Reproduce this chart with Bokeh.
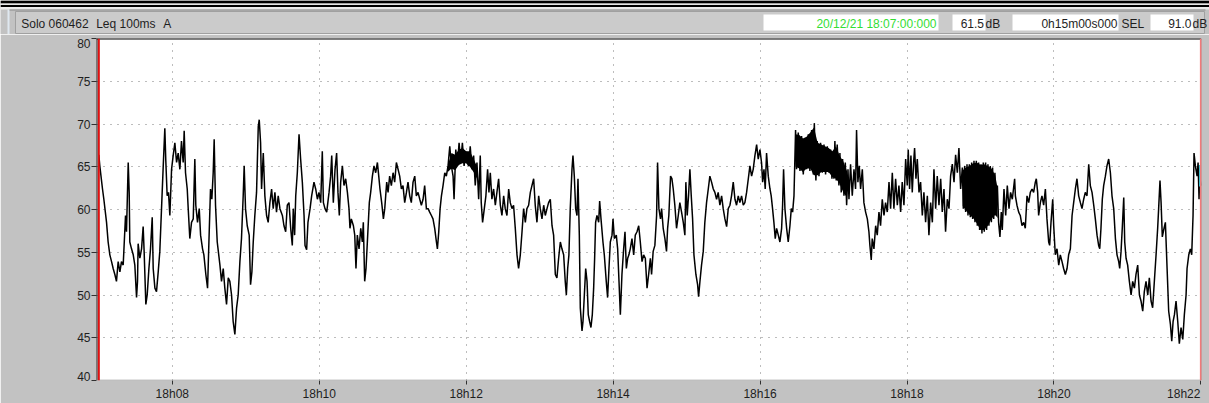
from bokeh.plotting import figure
from bokeh.layouts import column
from bokeh.models import Range1d, FixedTicker, Span, ColumnDataSource
from bokeh.core.properties import value
from bokeh.embed import file_html
from bokeh.resources import INLINE

# ---------------- data (seconds after 18:07:00, Leq 100ms A in dB) ----------------
seg1_t = [0, 0.8, 3.0, 4.1, 6.3, 7.6, 9.0, 10.4, 11.7, 13.1,
          14.4, 15.8, 17.2, 18.5, 19.9, 21.8, 22.6, 24.0, 24.8, 25.3,
          26.7, 28.1, 29.4, 30.8, 31.6, 32.1, 33.5, 34.9, 36.2, 37.0,
          38.4, 39.5, 40.9, 42.2, 43.6, 44.4, 45.8, 47.1, 48.5, 49.8,
          51.2, 52.6, 53.9, 54.7, 55.8, 56.9, 58.0, 59.4, 60.7, 62.1,
          63.5, 64.8, 66.2, 67.5, 68.9, 69.7, 70.8, 72.2, 73.0, 74.3,
          75.7, 77.1, 78.4, 79.2, 80.6, 82.0, 83.1, 84.7, 85.8, 87.4,
          88.8, 89.9, 91.2, 92.3, 93.4, 94.2, 95.3, 96.7, 98.9, 100.2,
          101.6, 102.9, 104.3, 105.7, 107.0, 108.4, 109.7, 111.1, 112.5, 113.8,
          115.2, 116.5, 117.9, 118.7, 119.8, 121.2, 122.8, 123.9, 125.0, 126.1,
          127.4, 128.8, 130.2, 131.0, 132.1, 132.9, 134.3, 135.6, 137.0, 138.3,
          139.7, 141.1, 142.4, 143.8, 145.1, 146.5, 147.9]
seg1_db = [66.4, 65.1, 62.4, 61.2, 58.5, 56.2, 54.7, 53.9, 53.1, 52.4,
           51.6, 53.9, 52.7, 53.9, 53.5, 59.3, 57.4, 65.5, 62.0, 56.2,
           55.4, 54.7, 53.5, 49.7, 51.6, 56.0, 54.3, 55.4, 58.0, 55.1,
           48.9, 50.0, 53.1, 55.4, 59.1, 53.1, 50.8, 50.4, 52.7, 55.1,
           60.1, 65.1, 69.5, 65.7, 61.6, 62.0, 59.3, 64.7, 66.3, 67.8,
           65.5, 66.6, 64.7, 68.0, 65.5, 69.2, 64.3, 62.4, 60.1, 56.6,
           58.5, 58.9, 65.9, 60.5, 58.5, 60.1, 57.0, 55.4, 54.7, 52.4,
           50.8, 56.2, 62.4, 61.2, 64.3, 68.2, 60.5, 56.2, 53.5, 51.6,
           53.1, 50.8, 48.9, 52.0, 51.6, 50.0, 46.9, 45.4, 48.5, 50.0,
           53.9, 56.6, 61.6, 65.1, 60.1, 58.1, 57.0, 51.2, 52.7, 56.2,
           59.3, 62.0, 69.7, 70.5, 67.8, 62.4, 66.6, 61.6, 59.3, 58.5,
           60.8, 62.4, 60.1, 62.0, 59.7, 61.6, 60.1]

seg2_t = [149.9, 151.2, 152.6, 153.9, 155.3, 156.7, 158.0, 158.8, 159.9, 160.8,
          162.1, 163.5, 164.8, 166.2, 167.6, 168.4, 169.7, 170.8, 172.5, 173.8,
          175.7, 177.1, 178.5, 179.8, 181.2, 182.5, 183.4, 184.7, 186.1, 188.0,
          189.3, 190.2, 191.5, 192.9, 194.2, 195.3, 196.4, 197.5, 198.9, 200.2,
          201.6, 203.0, 204.3, 205.1, 206.2, 207.9, 209.0, 210.0, 211.1, 212.5,
          213.9, 215.2, 216.0, 217.1, 218.2, 219.3, 220.1, 220.9, 222.0, 223.4,
          224.7, 226.1, 227.5, 228.6, 229.6, 231.0, 232.4, 233.5, 235.1, 236.2,
          237.5, 238.9, 240.3, 241.6, 243.0, 244.4, 245.7, 247.1, 248.4, 249.8,
          251.2, 252.5, 253.9, 255.2, 256.6, 258.0, 259.3, 260.7, 262.1, 263.4,
          264.8, 266.1, 267.5, 268.9, 270.2, 271.6, 272.9, 274.3, 275.7, 276.5,
          277.6, 278.7, 279.8, 281.1, 282.5, 283.8, 285.2, 286.6, 287.9, 289.3,
          290.1, 291.5, 292.8, 294.2, 295.5, 296.9, 298.3, 299.6, 301.0]
seg2_db = [59.3, 58.1, 57.4, 60.5, 60.8, 57.8, 55.8, 60.1, 57.0, 61.6,
           64.3, 68.8, 65.9, 63.2, 59.3, 55.8, 55.3, 58.5, 60.1, 61.6,
           63.2, 62.4, 61.2, 62.0, 60.8, 66.8, 60.8, 60.1, 59.7, 62.0,
           63.9, 66.3, 60.8, 64.7, 66.6, 62.0, 59.3, 63.2, 65.1, 62.8,
           63.6, 62.0, 60.1, 57.8, 58.9, 58.1, 57.0, 53.1, 57.0, 55.4,
           57.8, 56.2, 58.5, 51.6, 53.1, 56.2, 58.5, 60.8, 62.0, 63.9,
           65.1, 64.3, 65.5, 63.9, 62.4, 60.8, 58.9, 60.1, 63.2, 62.0,
           63.9, 62.8, 64.3, 63.2, 65.5, 64.7, 63.9, 62.4, 62.8, 60.8,
           62.0, 63.2, 61.6, 60.8, 63.2, 63.9, 61.6, 62.0, 61.2, 60.5,
           61.2, 62.8, 60.1, 60.1, 59.7, 59.3, 58.9, 57.8, 56.2, 55.4,
           57.4, 60.1, 61.6, 62.8, 64.3, 63.9, 65.1, 67.4, 65.1, 63.9,
           61.2, 67.0, 65.1, 67.8, 65.5, 67.8, 65.1, 66.8, 65.5]

seg3_t = [302.0, 303.3, 304.7, 306.1, 307.4, 308.8, 310.2, 311.5, 312.3, 313.4,
          314.8, 316.1, 317.5, 318.6, 319.7, 321.0, 322.4, 323.8, 325.1, 326.5,
          327.9, 329.2, 330.6, 331.9, 333.3, 334.7, 336.0, 337.4, 338.7, 340.1,
          341.5, 342.8, 344.2, 345.6, 346.9, 348.3, 349.6, 351.0, 352.4, 353.7,
          355.1, 356.4, 357.8, 359.2, 360.5, 361.9, 363.3, 364.6, 366.0, 367.3,
          368.7, 370.1, 371.4, 372.8, 374.1, 375.5, 376.9, 378.2, 379.6, 380.9,
          381.8, 382.9, 383.9, 385.0, 386.4, 387.2, 388.3, 389.4, 390.5, 391.3,
          392.4, 393.2, 394.6, 395.4, 396.5, 397.6, 398.7, 399.7, 400.8, 401.9,
          403.0, 404.1, 404.9, 405.7, 406.8, 408.2, 409.0, 410.1, 411.7, 412.8,
          414.4, 415.5, 416.6, 417.7, 419.1, 419.9, 421.0, 422.6, 423.7, 424.8,
          425.9, 427.2, 428.6, 429.7, 430.8, 431.9, 432.9, 434.0, 435.4, 436.8,
          438.1, 439.5, 440.9, 442.2, 443.6, 444.9, 446.3, 447.7, 449.0, 450.4]
seg3_db = [65.1, 67.4, 64.7, 66.3, 62.8, 65.5, 61.2, 66.3, 60.8, 58.5,
           60.1, 61.6, 64.7, 62.0, 64.3, 61.2, 62.4, 60.5, 62.0, 63.6,
           60.5, 59.3, 61.6, 60.1, 59.3, 62.4, 60.8, 60.1, 60.5, 57.8,
           54.7, 53.1, 54.7, 57.4, 60.1, 58.5, 60.1, 60.5, 62.0, 62.8,
           63.6, 60.5, 58.5, 61.6, 60.1, 58.9, 60.5, 59.3, 60.1, 60.8,
           61.2, 58.1, 57.0, 52.4, 52.0, 54.3, 56.2, 55.4, 54.7, 51.6,
           50.0, 53.1, 54.7, 60.1, 64.7, 66.3, 63.9, 60.1, 59.3, 63.6,
           57.0, 48.5, 45.8, 46.9, 50.0, 53.1, 51.6, 47.7, 46.9, 46.2,
           47.7, 50.8, 54.3, 58.5, 59.3, 58.5, 61.0, 58.9, 56.2, 54.7,
           51.6, 49.7, 53.1, 56.2, 57.0, 58.9, 56.6, 57.0, 55.4, 51.6,
           47.7, 52.4, 55.4, 57.4, 53.1, 54.3, 54.7, 55.4, 56.6, 54.7,
           57.0, 57.4, 58.1, 56.2, 53.9, 54.7, 54.3, 50.8, 52.4, 54.3]

seg4_t = [451.4, 452.7, 454.1, 455.5, 456.3, 457.4, 458.7, 459.6, 460.9, 462.3,
          463.6, 464.5, 465.5, 466.9, 468.0, 469.1, 470.4, 471.8, 473.2, 474.5,
          475.9, 477.3, 478.6, 479.4, 480.5, 481.6, 482.7, 483.8, 484.9, 486.0,
          487.6, 489.0, 489.8, 490.9, 492.2, 493.6, 494.9, 496.3, 497.7, 499.0,
          500.4, 501.8, 503.1, 504.5, 505.8, 507.2, 508.6, 509.9, 511.3, 512.7,
          514.0, 515.4, 516.7, 518.1, 519.5, 520.8, 522.2, 523.5, 524.9, 526.3,
          527.6, 529.0, 530.4, 531.7, 533.1, 534.4, 535.8, 537.2, 538.5, 539.9,
          541.2, 542.1, 543.2, 544.2, 545.3, 546.7, 548.1, 549.1, 550.2, 551.3,
          552.4, 553.5, 554.9, 556.2, 557.6, 558.4, 559.2, 560.3, 561.7, 563.0,
          564.4, 565.5, 566.6, 567.7, 569.0, 569.8, 571.2, 572.6, 573.9, 575.3,
          576.6, 578.0, 579.4, 580.7, 582.1, 583.5, 584.3, 585.6, 586.7, 588.1,
          589.4, 590.8, 592.2, 593.5, 594.9, 596.3, 597.6, 598.7, 599.8]
seg4_db = [52.4, 55.1, 55.8, 59.3, 65.5, 60.1, 58.9, 60.1, 57.8, 56.6,
           55.1, 57.8, 59.3, 63.9, 63.6, 62.4, 60.5, 57.8, 59.3, 60.8,
           59.7, 58.5, 57.0, 63.2, 59.3, 61.6, 64.7, 61.6, 58.9, 54.7,
           52.4, 51.2, 49.8, 51.6, 53.5, 55.1, 58.5, 60.8, 62.4, 63.9,
           63.2, 62.4, 62.0, 61.2, 62.0, 60.5, 61.6, 60.1, 58.9, 58.0,
           60.1, 60.5, 61.6, 63.2, 61.2, 60.5, 61.6, 60.8, 61.6, 60.5,
           60.8, 62.0, 63.6, 65.1, 63.9, 64.7, 66.3, 67.6, 65.9, 67.0,
           65.5, 63.2, 64.7, 62.4, 66.6, 63.9, 62.4, 61.6, 60.1, 58.5,
           56.6, 57.8, 57.0, 56.2, 57.8, 60.5, 64.7, 60.1, 57.8, 56.2,
           58.1, 60.1, 59.7, 61.6, 69.3, 64.7, 69.0, 64.5, 68.6, 64.1,
           68.2, 64.7, 68.8, 64.5, 69.3, 64.1, 70.1, 63.4, 68.0, 63.9,
           67.8, 64.3, 67.6, 64.1, 67.4, 64.3, 67.0, 63.6, 66.6]

seg5_t = [600.3, 601.1, 602.2, 603.0, 604.4, 605.2, 606.3, 607.4, 608.5, 609.6,
          610.7, 611.8, 612.6, 613.9, 615.3, 616.7, 618.0, 618.8, 619.9, 621.0,
          622.1, 623.5, 624.8, 626.2, 627.6, 628.9, 629.7, 630.8, 631.6, 633.0,
          634.4, 635.7, 637.1, 638.4, 639.8, 641.2, 642.5, 643.9, 645.3, 646.6,
          648.0, 649.3, 650.7, 652.1, 653.4, 654.8, 656.1, 657.5, 658.9, 660.2,
          661.0, 662.1, 663.2, 664.3, 665.4, 666.2, 667.3, 668.4, 669.8, 671.1,
          672.5, 673.8, 675.2, 676.6, 677.9, 679.3, 680.7, 682.0, 683.4, 684.7,
          686.1, 687.5, 688.8, 690.2, 691.5, 692.9, 694.3, 695.6, 697.0, 698.4,
          699.7, 701.1, 702.4, 703.8, 705.2, 706.0, 707.1, 707.9, 709.0, 709.8,
          710.9, 711.7, 712.8, 713.6, 714.7, 715.5, 716.6, 717.4, 718.5, 719.3,
          720.4, 721.2, 722.3, 723.1, 724.2, 725.0, 726.1, 726.9, 728.0, 728.9,
          729.9, 730.8, 731.8, 732.7, 733.8, 734.8, 735.9, 737.0, 737.8, 739.2,
          740.6, 741.9, 743.3, 744.6, 746.0, 747.9]
seg5_db = [63.6, 68.0, 63.4, 67.6, 62.8, 66.6, 62.0, 65.9, 61.6, 65.5,
           60.5, 64.7, 61.2, 65.3, 61.6, 64.7, 62.4, 69.3, 63.2, 65.1,
           62.4, 64.7, 60.8, 59.7, 58.9, 57.4, 55.8, 54.1, 56.6, 55.4,
           58.1, 57.0, 59.7, 58.1, 61.2, 59.3, 60.8, 59.7, 63.2, 60.1,
           64.3, 60.1, 63.6, 60.5, 62.8, 59.7, 63.2, 60.5, 65.9, 62.8,
           67.0, 62.4, 66.3, 62.0, 65.5, 67.2, 63.6, 65.9, 62.0, 63.2,
           59.3, 62.0, 58.5, 61.6, 57.0, 60.8, 58.5, 64.7, 60.1, 63.9,
           60.5, 63.6, 59.7, 62.4, 57.4, 61.2, 60.1, 63.9, 65.3, 63.2,
           66.4, 64.3, 67.2, 62.4, 64.9, 60.1, 65.1, 59.7, 65.3, 59.3,
           65.3, 59.1, 65.5, 58.9, 65.7, 58.5, 65.7, 58.1, 65.5, 57.6,
           65.3, 57.2, 65.5, 57.4, 65.5, 57.6, 65.3, 58.1, 65.1, 58.5,
           64.9, 58.9, 64.3, 59.3, 62.8, 58.5, 56.8, 59.7, 57.6, 62.4,
           59.3, 62.8, 60.1, 62.0, 61.2, 63.6]

seg6_t = [748.5, 749.8, 751.2, 752.5, 753.9, 755.3, 756.6, 758.0, 759.4, 760.7,
          762.1, 763.4, 764.8, 765.6, 766.7, 767.5, 768.9, 770.2, 771.6, 773.0,
          774.3, 775.7, 776.5, 777.6, 779.0, 779.8, 781.1, 782.5, 783.9, 785.2,
          786.6, 787.9, 789.3, 790.7, 792.0, 793.4, 794.8, 796.1, 797.5, 798.8,
          800.2, 801.6, 802.9, 804.3, 805.6, 807.0, 808.4, 809.7, 811.1, 812.5,
          813.8, 815.2, 816.5, 817.4, 818.4, 819.5, 820.6, 822.0, 823.3, 824.7,
          826.1, 827.4, 828.8, 830.2, 831.5, 832.9, 833.7, 834.8, 835.9, 837.0,
          837.8, 838.9, 840.2, 841.6, 843.0, 844.3, 845.7, 847.0, 848.4, 849.8,
          851.1, 852.5, 853.8, 855.2, 856.6, 857.9, 859.3, 860.6, 862.0, 863.4,
          864.7, 865.5, 866.6, 867.5, 868.5, 869.6, 871.0, 872.4, 873.7, 875.1,
          876.2, 877.3, 878.4, 879.7, 881.1, 882.4, 883.8, 885.2, 886.5, 887.9,
          888.7, 890.1, 891.4, 892.5, 893.6, 894.4, 895.5, 896.9, 897.7, 898.5,
          899.0, 900.0]
seg6_db = [61.6, 60.5, 59.7, 59.3, 58.1, 58.5, 57.8, 61.6, 60.8, 62.0,
           62.4, 62.0, 63.2, 63.6, 62.0, 59.3, 60.8, 61.6, 60.5, 62.4,
           58.9, 56.2, 55.8, 58.5, 61.2, 58.1, 54.7, 55.4, 53.5, 54.7,
           53.9, 53.1, 52.4, 53.1, 54.7, 55.4, 59.3, 60.8, 62.4, 63.6,
           61.6, 60.8, 60.1, 61.2, 62.0, 61.6, 65.3, 62.8, 62.0, 60.5,
           58.9, 57.0, 55.8, 55.4, 57.8, 61.2, 62.8, 63.9, 65.1, 65.9,
           64.3, 61.6, 60.1, 56.6, 54.7, 53.9, 53.1, 55.1, 58.1, 61.4,
           56.2, 54.3, 53.5, 51.6, 50.0, 51.6, 50.8, 52.4, 53.5, 50.0,
           49.3, 48.1, 50.4, 51.6, 50.0, 52.0, 49.3, 48.5, 51.6, 54.7,
           57.8, 60.1, 63.4, 60.8, 56.8, 57.6, 58.5, 53.1, 48.1, 46.6,
           44.6, 46.9, 47.7, 49.3, 46.9, 44.3, 46.2, 44.8, 47.7, 50.0,
           53.1, 54.7, 55.4, 54.7, 59.3, 66.6, 65.1, 63.9, 65.5, 61.2,
           63.9, 62.8]

# solid cores of the densely oscillating stretches (inner envelope, dB)
dense_a_t = [569.0, 572.0, 575.0, 578.0, 581.0, 584.0, 587.0, 590.0, 593.0, 596.0, 599.0, 602.0, 605.0, 608.0, 611.0]
dense_a_lo = [65.0, 64.8, 64.4, 64.8, 64.8, 64.0, 64.0, 64.4, 64.4, 64.4, 63.8, 63.6, 63.0, 62.0, 61.4]
dense_a_hi = [68.8, 68.7, 68.3, 68.5, 69.0, 69.6, 67.8, 67.6, 67.4, 67.2, 66.8, 67.4, 66.3, 65.6, 64.5]
dense_b_t = [705.5, 708.0, 711.0, 714.0, 717.0, 720.0, 723.0, 726.0, 729.0, 732.0, 734.0]
dense_b_lo = [60.4, 59.9, 59.4, 59.0, 58.4, 57.6, 57.6, 58.1, 58.9, 59.4, 59.0]
dense_b_hi = [64.6, 64.9, 65.1, 65.4, 65.5, 65.2, 65.3, 65.1, 64.8, 64.0, 62.5]
dense_c_t = [285.0, 288.0, 291.0, 294.0, 297.0, 300.0, 303.0, 306.0, 309.0]
dense_c_lo = [64.4, 64.8, 64.6, 65.2, 65.4, 65.4, 65.0, 64.4, 63.6]
dense_c_hi = [65.2, 66.6, 66.4, 67.0, 67.2, 66.8, 66.8, 65.9, 65.0]

# tick marks (true positions) and where their labels sit (edge labels pulled inside)
x_tick_s = [60, 180, 300, 420, 540, 660, 780, 900]
x_label_s = [60, 180, 300, 420, 540, 660, 780, 886]
x_tick_labels = ["18h08", "18h10", "18h12", "18h14", "18h16", "18h18", "18h20", "18h22"]
y_ticks = [40, 45, 50, 55, 60, 65, 70, 75, 80]
y_label_pos = [40.47, 45, 50, 55, 60, 65, 70, 75, 79.4]
y_tick_labels = ["40", "45", "50", "55", "60", "65", "70", "75", "80"]

header_parts = ["Solo 060462", "Leq 100ms", "A"]
cursor_time = "20/12/21 18:07:00:000"
cursor_level = "61.5"
duration = "0h15m00s000"
sel_value = "91.0"
cursor_t = 899.3
cursor_span_db = (62.7, 65.2)

# ---------------- assemble ----------------
times_s, levels_db = [], []
for ts, ls in [(seg1_t, seg1_db), (seg2_t, seg2_db), (seg3_t, seg3_db),
               (seg4_t, seg4_db), (seg5_t, seg5_db), (seg6_t, seg6_db)]:
    n = min(len(ts), len(ls))
    times_s += ts[:n]
    levels_db += ls[:n]

FONT = "Liberation Sans"
PANEL = "#c2c2c2"
BAND = "#cbcbcb"
TXT = "#1e1e1e"
W = 1209
HH = 34

# ---------------- header strip (page pixel coordinates) ----------------
hdr = figure(width=W, height=HH, x_range=Range1d(0, W), y_range=Range1d(HH, 0),
             toolbar_location=None, output_backend="svg",
             x_axis_location=None, y_axis_location=None, frame_align=False,
             min_border=0, min_border_left=0, min_border_right=0,
             min_border_top=0, min_border_bottom=0)
hdr.grid.visible = False
hdr.outline_line_color = None
hdr.background_fill_color = PANEL
hdr.border_fill_color = PANEL
# window top edge
hdr.quad(left=[0, 0, 0], right=[W, W, W], top=[0, 3, 4.5], bottom=[3, 4.5, 6.5],
         fill_color=["black", "#e6e6e6", "black"], line_color=None)
hdr.quad(left=[0], right=[W], top=[6.5], bottom=[9], fill_color="#ececec", line_color=None)
hdr.quad(left=[7], right=[9], top=[9], bottom=[HH], fill_color="#dfe8f0", line_color=None)
hdr.quad(left=[9], right=[1205], top=[9], bottom=[10], fill_color="#8a8a8a", line_color=None)
# label band and value boxes
hdr.quad(left=[15], right=[1204], top=[11], bottom=[33], fill_color=BAND,
         line_color="#a0a0a0", line_width=1)
hdr.quad(left=[763, 952, 1012, 1150], right=[938, 985, 1118, 1193],
         top=[14, 14, 14, 14], bottom=[30, 30, 30, 30], fill_color="white", line_color=None)

def htext(x, s, align, color=TXT):
    hdr.text(x=[x], y=[23.3], text=[s], text_align=align, text_baseline="middle",
             text_font=value(FONT), text_font_size="12px", text_color=color)

htext(20.7, header_parts[0], "left")
htext(95.7, header_parts[1], "left")
htext(162.7, header_parts[2], "left")
htext(936, cursor_time, "right", "#33dd33")
htext(983.5, cursor_level, "right")
htext(985, "dB", "left")
htext(1117, duration, "right")
htext(1121, "SEL", "left")
htext(1191, sel_value, "right")
htext(1192, "dB", "left")

# ---------------- main chart ----------------
p = figure(width=W, height=403 - HH, x_range=Range1d(-1.9, 900.5), y_range=Range1d(40, 80),
           toolbar_location=None, output_backend="svg", frame_align=False,
           min_border_left=96, min_border_right=8, min_border_top=4, min_border_bottom=21)
p.background_fill_color = "white"
p.border_fill_color = PANEL
p.outline_line_color = None

p.xaxis.ticker = FixedTicker(ticks=x_label_s, minor_ticks=x_tick_s)
p.xaxis.major_label_overrides = {t: lab for t, lab in zip(x_label_s, x_tick_labels)}
p.yaxis.ticker = FixedTicker(ticks=y_label_pos, minor_ticks=y_ticks)
p.yaxis.major_label_overrides = {t: lab for t, lab in zip(y_label_pos, y_tick_labels)}

for ax in (p.xaxis[0], p.yaxis[0]):
    ax.axis_line_color = None
    ax.major_tick_line_color = None
    ax.minor_tick_line_color = "#303030"
    ax.minor_tick_in = 0
    ax.major_tick_in = 0
    ax.major_label_text_font = FONT
    ax.major_label_text_font_size = "12px"
    ax.major_label_text_color = TXT
p.xaxis.major_tick_out = 4
p.xaxis.minor_tick_out = 4
p.xaxis.major_label_standoff = 2
p.yaxis.major_tick_out = 5
p.yaxis.minor_tick_out = 5
p.yaxis.major_label_standoff = 1

p.xgrid.ticker = FixedTicker(ticks=x_tick_s[:-1])
p.ygrid.ticker = FixedTicker(ticks=y_ticks[1:-1])
for g in (p.xgrid[0], p.ygrid[0]):
    g.grid_line_color = "#7a7a7a"
    g.grid_line_dash = "1 6"
    g.grid_line_width = 1

for dt, dlo, dhi in [(dense_a_t, dense_a_lo, dense_a_hi),
                     (dense_b_t, dense_b_lo, dense_b_hi),
                     (dense_c_t, dense_c_lo, dense_c_hi)]:
    p.varea(x=dt, y1=dlo, y2=dhi, fill_color="black")

src = ColumnDataSource(data=dict(t=times_s, db=levels_db))
p.line("t", "db", source=src, line_color="black", line_width=1.5)

# frame edges and cursors
p.add_layout(Span(location=80, dimension="width", line_color="black", line_width=2))
p.add_layout(Span(location=-1.9, dimension="height", line_color="black", line_width=2))
p.add_layout(Span(location=40, dimension="width", line_color="#8e8e8e", line_width=1.5))
p.add_layout(Span(location=900.5, dimension="height", line_color="#707070", line_width=1.5))
p.add_layout(Span(location=0, dimension="height", line_color="#e01010", line_width=2))
p.add_layout(Span(location=900, dimension="height", line_color="#f07a7a", line_width=2))
p.segment(x0=[cursor_t], y0=[cursor_span_db[0]], x1=[cursor_t], y1=[cursor_span_db[1]],
          line_color="#22c8d8", line_width=2)

layout = column(hdr, p)
open("out.html", "w").write(file_html(layout, INLINE))
